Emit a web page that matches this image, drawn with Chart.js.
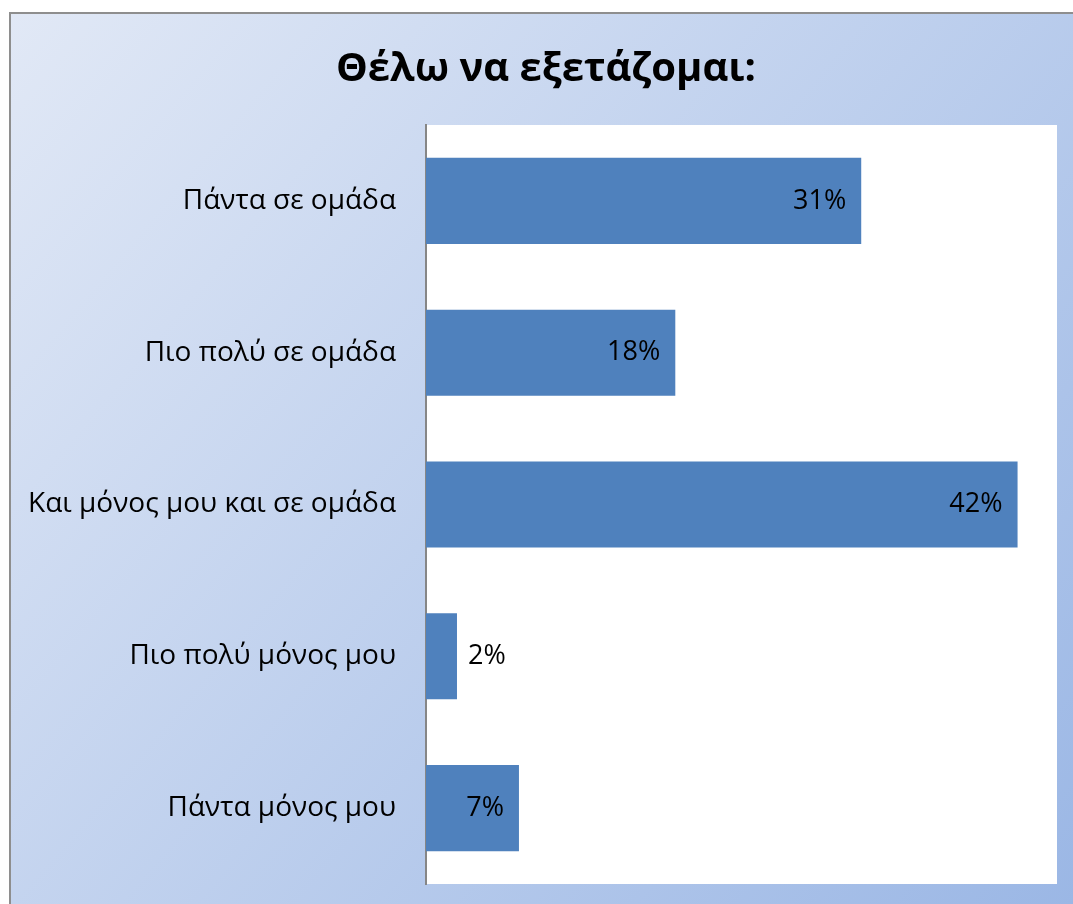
<!DOCTYPE html>
<html>
<head>
<meta charset="utf-8">
<script src="https://cdn.jsdelivr.net/npm/chart.js@4/dist/chart.umd.min.js"></script>
<style>
  html, body { margin: 0; padding: 0; background: #fff; }
  #wrap { width: 1073px; height: 904px; }
</style>
</head>
<body>
<div id="wrap"><canvas id="chart" width="1073" height="904"></canvas></div>
<script>
const titleText = 'Θέλω να εξετάζομαι:';
const categories = ['Πάντα σε ομάδα', 'Πιο πολύ σε ομάδα', 'Και μόνος μου και σε ομάδα', 'Πιο πολύ μόνος μου', 'Πάντα μόνος μου'];
const percents = [30.9, 17.7, 42.0, 2.2, 6.6];
const axisMax = 44.8;

const FONT = "'Open Sans', 'Noto Sans', sans-serif";

// outer frame + gradient + white plot area
const backdrop = {
  id: 'backdrop',
  beforeDraw(chart) {
    const {ctx, width, height, chartArea} = chart;
    ctx.save();
    const g = ctx.createLinearGradient(0, 0, width, height);
    g.addColorStop(0, '#E2E9F6');
    g.addColorStop(1, '#9BB7E5');
    ctx.fillStyle = g;
    ctx.fillRect(10, 13, width - 10, height - 13);
    ctx.strokeStyle = '#8E8E8E';
    ctx.lineWidth = 2;
    ctx.beginPath();
    ctx.moveTo(10, height);
    ctx.lineTo(10, 13);
    ctx.lineTo(width, 13);
    ctx.stroke();
    ctx.fillStyle = '#ffffff';
    ctx.fillRect(chartArea.left, chartArea.top, chartArea.right - chartArea.left, chartArea.bottom - chartArea.top);
    ctx.restore();
  },
  // title centred on the frame rather than on the canvas
  afterDraw(chart) {
    const {ctx} = chart;
    ctx.save();
    ctx.font = 'bold 40px ' + FONT;
    ctx.fillStyle = '#000';
    ctx.textAlign = 'center';
    ctx.textBaseline = 'middle';
    ctx.fillText(titleText, 546, 70);
    ctx.restore();
  }
};

// value labels, inside end of the bar, outside when the bar is short
const valueLabels = {
  id: 'valueLabels',
  afterDatasetsDraw(chart) {
    const {ctx} = chart;
    const meta = chart.getDatasetMeta(0);
    ctx.save();
    ctx.font = '27px ' + FONT;
    ctx.fillStyle = '#000';
    ctx.textBaseline = 'middle';
    meta.data.forEach((bar, i) => {
      const txt = Math.round(percents[i]) + '%';
      const w = ctx.measureText(txt).width;
      if (bar.x - bar.base > w + 24) {
        ctx.textAlign = 'right';
        ctx.fillText(txt, bar.x - 15, bar.y);
      } else {
        ctx.textAlign = 'left';
        ctx.fillText(txt, bar.x + 11, bar.y);
      }
    });
    ctx.restore();
  }
};

new Chart(document.getElementById('chart'), {
  type: 'bar',
  data: {
    labels: categories,
    datasets: [{
      data: percents,
      backgroundColor: '#4F81BD',
      borderWidth: 0,
      barPercentage: 0.567,
      categoryPercentage: 1.0
    }]
  },
  options: {
    indexAxis: 'y',
    responsive: false,
    animation: false,
    layout: { padding: { left: 0, right: 16, top: 125, bottom: 20 } },
    plugins: {
      legend: { display: false },
      tooltip: { enabled: false },
      title: { display: false }
    },
    scales: {
      x: { display: false, min: 0, max: axisMax },
      y: {
        afterFit(scale) {
          scale.width = 426;
          scale.paddingTop = 0;
          scale.paddingBottom = 0;
        },
        ticks: { color: '#000', font: { family: FONT, size: 28 }, padding: 30 },
        grid: { display: true, drawOnChartArea: false, drawTicks: false, color: 'rgba(0,0,0,0)' },
        border: { display: true, color: '#868686', width: 2 }
      }
    }
  },
  plugins: [backdrop, valueLabels]
});
</script>
</body>
</html>
